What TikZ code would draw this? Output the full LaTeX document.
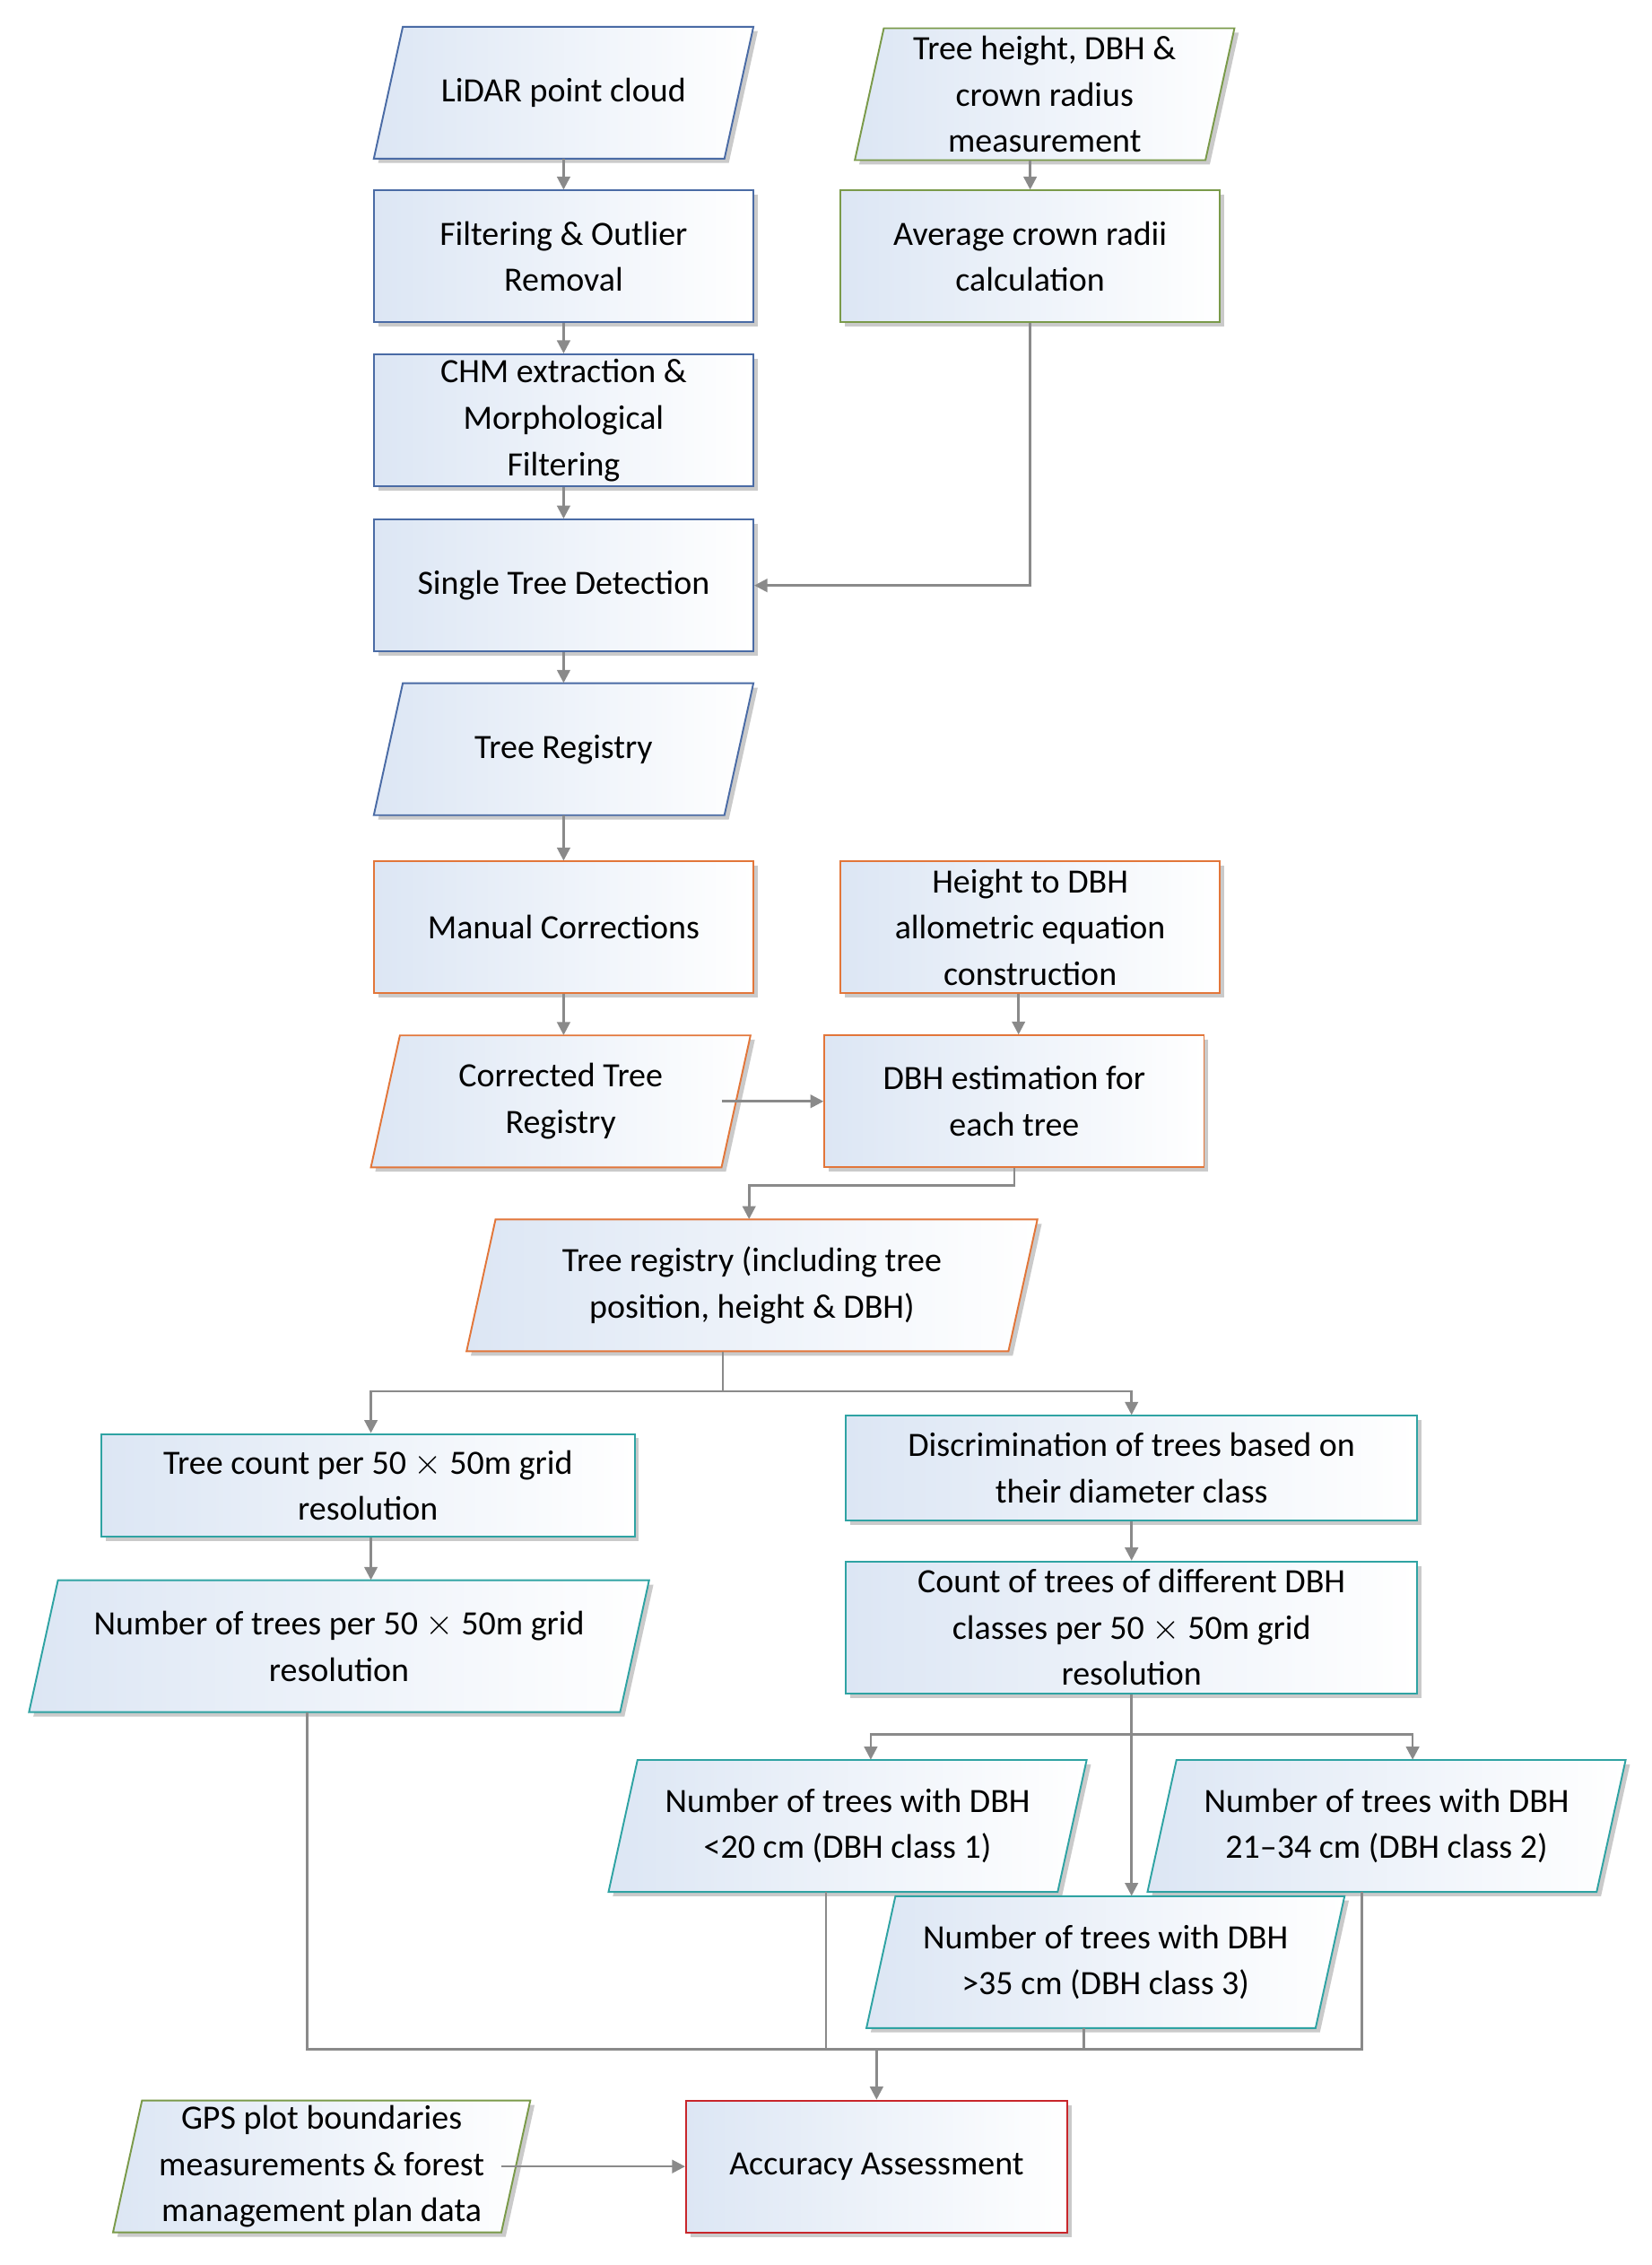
\documentclass[tikz,border=0pt]{standalone}
\usepackage{fontspec}
\setmainfont{Carlito}
\usetikzlibrary{shadows,arrows.meta,calc}
\definecolor{cb}{HTML}{4A6BA5}
\definecolor{cg}{HTML}{7A9A4A}
\definecolor{co}{HTML}{E2763A}
\definecolor{ct}{HTML}{2FA3A3}
\definecolor{cr}{HTML}{C8262B}
\definecolor{fillc}{HTML}{DCE6F4}
\definecolor{ag}{HTML}{8A8A8A}
\newcommand{\mypara}[6]{% name, x, y, width, colour, text
  \path[shp,draw=#5] ({#2-#4/2},{#3+45.5}) -- ({#2+#4/2-20},{#3+45.5}) -- ({#2+#4/2},{#3-45.5}) -- ({#2-#4/2+20},{#3-45.5}) -- cycle;
  \node[txt,minimum width=#4-40,minimum height=91pt] (#1) at (#2,#3) {#6};}
\begin{document}
\begin{tikzpicture}[x=1pt,y=-1pt,
  shp/.style={line width=1.2pt,shading angle=135,left color=fillc,right color=white,
    drop shadow={shadow xshift=3pt,shadow yshift=-3pt,opacity=0.35,fill=black!60}},
  txt/.style={align=center,font=\fontsize{23.5}{32}\selectfont,inner sep=0pt},
  box/.style={shp,txt,rectangle,minimum width=#1,minimum height=91pt},
  ar/.style={draw=ag,line width=1.6pt,-{Triangle[width=9pt,length=9pt]}},
  ln/.style={draw=ag,line width=1.6pt}]
\useasboundingbox (0,0) rectangle (1140,1563);
% blue
\mypara{lidar}{389}{64}{262}{cb}{LiDAR point cloud}
\node[box=262,draw=cb] (filt) at (389,177) {Filtering \& Outlier\\Removal};
\node[box=262,draw=cb] (chm) at (389,290) {CHM extraction \&\\Morphological\\Filtering};
\node[box=262,draw=cb] (std) at (389,404) {Single Tree Detection};
\mypara{treg}{389}{517}{262}{cb}{Tree Registry}
% green
\mypara{meas}{721}{65}{262}{cg}{Tree height, DBH \&\\crown radius\\measurement}
\node[box=262,draw=cg] (avg) at (711,177) {Average crown radii\\calculation};
% orange
\node[box=262,draw=co] (man) at (389,640) {Manual Corrections};
\mypara{ctr}{387}{760}{262}{co}{Corrected Tree\\Registry}
\node[box=262,draw=co] (h2d) at (711,640) {Height to DBH\\allometric equation\\construction};
\node[box=262,draw=co] (dbhe) at (700,760) {DBH estimation for\\each tree};
\mypara{tri}{519}{887}{394}{co}{Tree registry (including tree\\position, height \& DBH)}
% teal
\node[box=368,draw=ct,minimum height=71pt] (tc) at (254,1025) {Tree count per 50 $\times$ 50m grid\\resolution};
\node[box=394,draw=ct,minimum height=72pt] (disc) at (781,1013) {Discrimination of trees based on\\their diameter class};
\mypara{npg}{234}{1136}{428}{ct}{Number of trees per 50 $\times$ 50m grid\\resolution}
\node[box=394,draw=ct] (cnt) at (781,1123) {Count of trees of different DBH\\classes per 50 $\times$ 50m grid\\resolution};
\mypara{c1}{585}{1260}{330}{ct}{Number of trees with DBH\\<20 cm (DBH class 1)}
\mypara{c2}{957}{1260}{330}{ct}{Number of trees with DBH\\21--34 cm (DBH class 2)}
% bottom
\mypara{gps}{222}{1495}{288}{cg}{GPS plot boundaries\\measurements \& forest\\management plan data}
\node[box=263,draw=cr] (acc) at (605,1495) {Accuracy Assessment};
% connectors
\draw[ar] (lidar) -- (filt);
\draw[ar] (filt) -- (chm);
\draw[ar] (chm) -- (std);
\draw[ar] (std) -- (treg);
\draw[ar] (treg) -- (man);
\draw[ar] (man) -- (ctr.north -| man);
\draw[ar] (meas.south -| avg) -- (avg);
\draw[ar] (avg.south) |- (std.east);
\draw[ar] (h2d.south -| 703,0) -- (dbhe.north -| 703,0);
\draw[ar] (ctr.east |- 0,760) -- (dbhe.west);
\draw[ar] (dbhe.south) -- (700,818) -| (tri.north -| 517,0);
\draw[ln] (tri.south -| 499,0) -- (499,960);
\draw[ar] (499,960) -| (tc.north -| 256,0);
\draw[ar] (499,960) -| (disc.north);
\draw[ar] (tc.south -| 256,0) -- (npg.north -| 256,0);
\draw[ar] (disc) -- (cnt);
\draw[ln] (cnt.south) -- (781,1197);
\draw[ar] (781,1197) -| (c1.north -| 601,0);
\draw[ar] (781,1197) -| (c2.north -| 975,0);
\draw[ln] (npg.south -| 212,0) |- (605,1414);
\draw[ln] (c1.south -| 570,0) -- (570,1414);
\draw[ln] (c2.south -| 940,0) |- (605,1414);
\draw[ar] (605,1414) -- (acc.north);
\draw[ar] (gps.east |- 0,1495) -- (acc.west);
\mypara{c3}{763}{1354}{330}{ct}{Number of trees with DBH\\>35 cm (DBH class 3)}
\draw[ar] (781,1197) -- (c3.north -| 781,0);
\draw[ln] (c3.south -| 748,0) -- (748,1414);
\end{tikzpicture}
\end{document}
